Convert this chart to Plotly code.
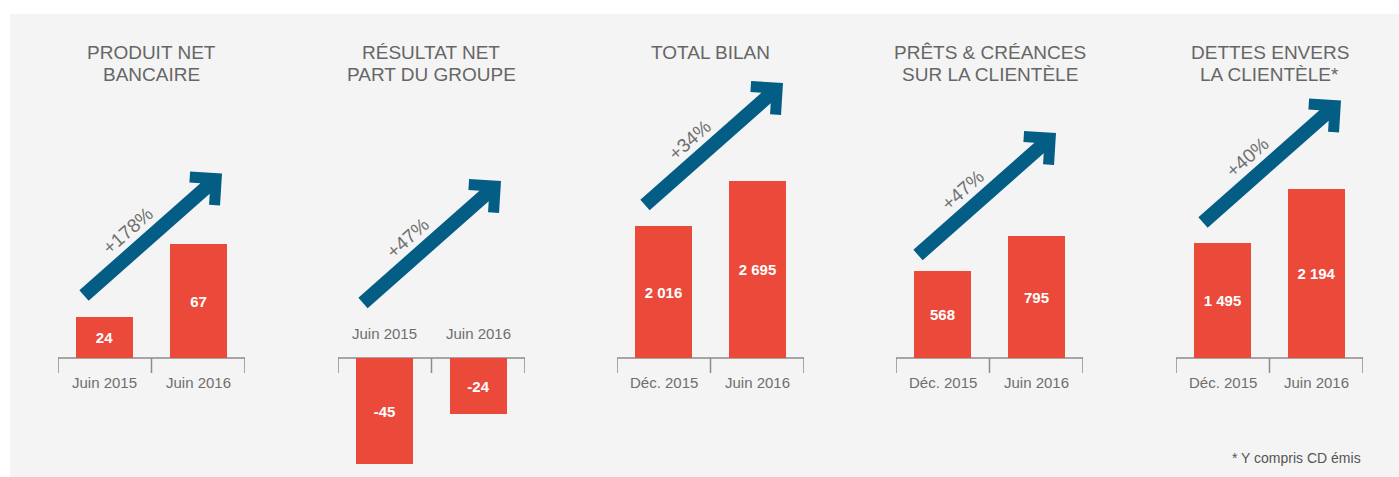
import numpy as np
import plotly.graph_objects as go

# ---------------- data ----------------
titles = [["PRODUIT NET", "BANCAIRE"],
          ["RÉSULTAT NET", "PART DU GROUPE"],
          ["TOTAL BILAN"],
          ["PRÊTS & CRÉANCES", "SUR LA CLIENTÈLE"],
          ["DETTES ENVERS", "LA CLIENTÈLE*"]]
periods = [["Juin 2015", "Juin 2016"],
           ["Juin 2015", "Juin 2016"],
           ["Déc. 2015", "Juin 2016"],
           ["Déc. 2015", "Juin 2016"],
           ["Déc. 2015", "Juin 2016"]]
values_start = [24, -45, 2016, 568, 1495]
values_end = [67, -24, 2695, 795, 2194]
growth = ["+178%", "+47%", "+34%", "+47%", "+40%"]
footnote = "* Y compris CD émis"

# ---------------- layout constants ----------------
W, H = 1399, 477
axis_left = [58, 338, 617, 896, 1176]
axis_width = 187
baseline_px = 358
px_per_unit = [1.70, 2.35, 0.0656, 0.153, 0.0772]
arrow_tail = [(84, 295.5), (363, 303), (645, 205), (918, 255), (1203, 222.5)]
arrow_dx, arrow_dy = 138, -122

BAR = "#EB4A3B"
ARROW = "#035D85"
GREY_TXT = "#666666"
AXIS = "#8C8C8C"
FONT = "Liberation Sans, Arial, sans-serif"


def pxx(x):
    return x / W


def pxy(y):
    return 1 - y / H


def fmt(v):
    return f"{v:,}".replace(",", " ")


fig = go.Figure()
shapes = []
annotations = []

# background panel
shapes.append(dict(type="rect", xref="paper", yref="paper", x0=pxx(10), x1=1,
                   y0=0, y1=pxy(14), fillcolor="#F4F4F4", line_width=0, layer="below"))

for i in range(5):
    n = "" if i == 0 else str(i + 1)
    xa, ya = "x" + n, "y" + n
    vals = [values_start[i], values_end[i]]
    fig.add_trace(go.Bar(
        x=[0, 1], y=vals, width=0.61, marker=dict(color=BAR, line_width=0),
        text=[f"<b>{fmt(v)}</b>" for v in vals], textposition="inside",
        insidetextanchor="middle", textangle=0,
        textfont=dict(color="white", size=15, family=FONT),
        xaxis=xa, yaxis=ya, showlegend=False, hoverinfo="skip"))
    s = px_per_unit[i]
    l = axis_left[i]
    fig.layout["xaxis" + n] = dict(domain=[pxx(l), pxx(l + axis_width)], range=[-0.5, 1.5],
                                   visible=False, fixedrange=True, anchor=ya)
    fig.layout["yaxis" + n] = dict(domain=[0, 1], range=[-(H - baseline_px) / s, baseline_px / s],
                                   visible=False, fixedrange=True, anchor=xa)

    # bracket axis
    shapes.append(dict(type="line", xref=xa, yref="paper", x0=-0.5, x1=1.5,
                       y0=pxy(baseline_px), y1=pxy(baseline_px),
                       line=dict(color=AXIS, width=1.5), layer="below"))
    for tx in (-0.5, 0.5, 1.5):
        shapes.append(dict(type="line", xref=xa, yref="paper", x0=tx, x1=tx,
                           y0=pxy(baseline_px), y1=pxy(baseline_px + 15),
                           line=dict(color=AXIS, width=1.5), layer="below"))

    # category labels
    neg = min(vals) < 0
    ly = 333 if neg else 382.5
    for k, lab in enumerate(periods[i]):
        annotations.append(dict(x=k, y=pxy(ly), xref=xa, yref="paper", text=lab,
                                showarrow=False, xanchor="center", yanchor="middle",
                                font=dict(size=15, color="#6E6E6E", family=FONT)))

    # titles
    cx = l + axis_width / 2
    for j, line in enumerate(titles[i]):
        annotations.append(dict(x=pxx(cx), y=pxy(52 + 22 * j), xref="paper", yref="paper",
                                text=line, showarrow=False, xanchor="center", yanchor="middle",
                                font=dict(size=19, color=GREY_TXT, family=FONT)))

    # arrow
    L = np.hypot(arrow_dx, arrow_dy)
    u = np.array([arrow_dx, arrow_dy]) / L
    v = np.array([u[1], -u[0]])  # perpendicular, pointing up-left on screen
    h, a, t = 7.0, 22.6, 11.0
    c = t / np.sqrt(2)
    local = [(0, h), (L - a, h), (L - a - c, a - c), (L - a, a), (L, 0),
             (L - a, -a), (L - a - c, -(a - c)), (L - a, -h), (0, -h)]
    tail = np.array(arrow_tail[i])
    pts = [tail + uu * u + vv * v for uu, vv in local]
    path = "M " + " L ".join(f"{pxx(p[0]):.6f},{pxy(p[1]):.6f}" for p in pts) + " Z"
    shapes.append(dict(type="path", xref="paper", yref="paper", path=path,
                       fillcolor=ARROW, line_width=0, layer="above"))

    # growth text
    ang = np.degrees(np.arctan2(-arrow_dy, arrow_dx))
    tc = tail + 76 * u + 19.5 * v
    annotations.append(dict(x=pxx(tc[0]), y=pxy(tc[1]), xref="paper", yref="paper",
                            text=growth[i], showarrow=False, textangle=-ang,
                            xanchor="center", yanchor="middle",
                            font=dict(size=19, color="#707070", family=FONT)))

annotations.append(dict(x=pxx(1363), y=pxy(458), xref="paper", yref="paper", text=footnote,
                        showarrow=False, xanchor="right", yanchor="middle",
                        font=dict(size=14, color="#555555", family=FONT)))

fig.update_layout(width=W, height=H, margin=dict(l=0, r=0, t=0, b=0),
                  paper_bgcolor="white", plot_bgcolor="rgba(0,0,0,0)",
                  shapes=shapes, annotations=annotations, bargap=0)

fig.write_html("out.html", config={"displayModeBar": False})
